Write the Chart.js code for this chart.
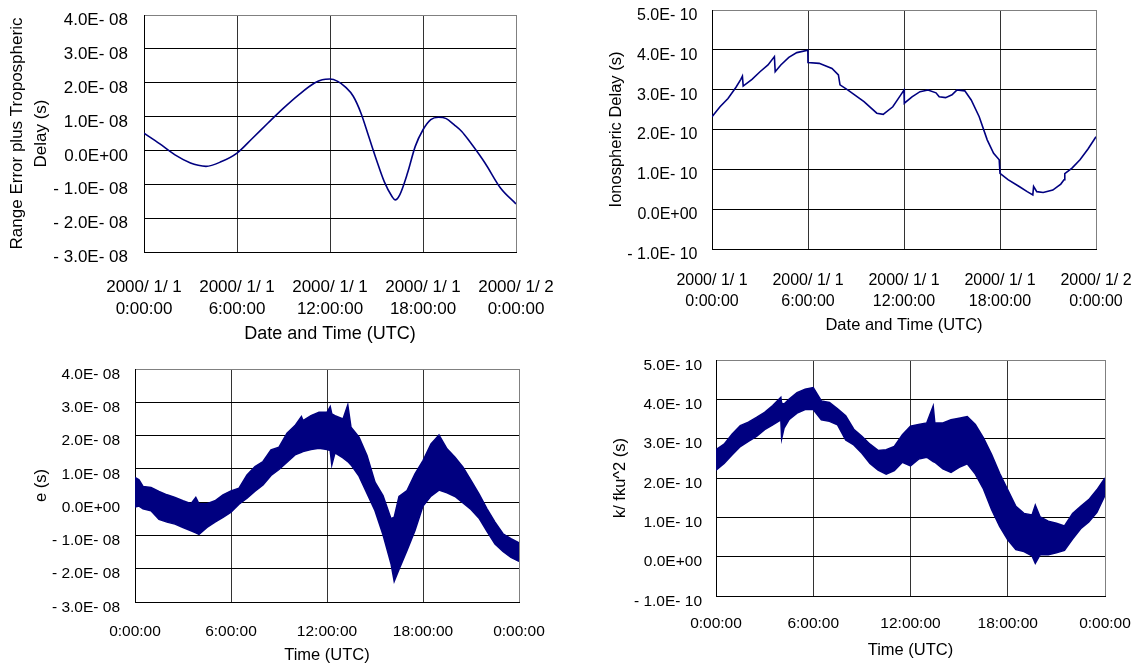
<!DOCTYPE html>
<html>
<head>
<meta charset="utf-8">
<script src="https://cdn.jsdelivr.net/npm/chart.js@4/dist/chart.umd.min.js"></script>
<style>
  html,body{margin:0;padding:0;background:#fff;}
  #wrap{position:relative;width:1137px;height:666px;overflow:hidden;}
  canvas{position:absolute;}
</style>
</head>
<body>
<div id="wrap">
  <canvas id="c1" width="568" height="345" style="left:0;top:0"></canvas>
  <canvas id="c2" width="569" height="345" style="left:568px;top:0"></canvas>
  <canvas id="c3" width="568" height="321" style="left:0;top:345px"></canvas>
  <canvas id="c4" width="569" height="321" style="left:568px;top:345px"></canvas>
</div>
<script>
// range error plus tropospheric delay, units of 1E-08 s
const hoursRange = [0,1,2,3,3.5,4,5,6,7,8,9,10,11,11.5,12,12.5,13,13.5,14,14.5,15,15.5,16,16.2,16.5,17,17.5,18,18.5,19,19.5,20,20.5,21,22,23,24];
const rangeError = [0.51,0.2,-0.13,-0.37,-0.44,-0.47,-0.33,-0.08,0.36,0.81,1.25,1.65,1.99,2.09,2.11,2.04,1.87,1.6,1.1,0.41,-0.28,-0.92,-1.36,-1.46,-1.31,-0.67,0.12,0.61,0.91,0.98,0.94,0.76,0.56,0.27,-0.37,-1.11,-1.58];

// ionospheric delay, units of 1E-10 s
const hoursIono = [0,0.5,1,1.5,1.8,1.9,1.95,2.5,3,3.5,3.9,3.95,4.3,4.8,5.3,5.99,6,6.7,7.5,7.9,8,8.5,9.5,10.3,10.7,11.3,11.8,12,12.02,12.5,13,13.5,14,14.2,14.6,15,15.3,15.8,16.2,16.7,17.2,17.6,17.95,18,18.5,19.2,19.7,20.05,20.1,20.3,20.7,21.3,21.8,22,22.05,22.5,23,23.5,24];
const ionoDelay = [2.32,2.57,2.78,3.06,3.26,3.34,3.09,3.26,3.45,3.62,3.83,3.45,3.62,3.81,3.93,3.99,3.68,3.66,3.53,3.37,3.12,2.99,2.70,2.41,2.38,2.57,2.87,2.99,2.66,2.82,2.95,2.99,2.92,2.82,2.80,2.87,2.99,2.97,2.74,2.32,1.74,1.40,1.24,0.90,0.74,0.57,0.44,0.36,0.57,0.44,0.42,0.48,0.63,0.74,0.89,1.03,1.24,1.51,1.82];

// e (noisy), upper / lower edge of the band, units of 1E-08 s
const hoursE = [0,0.25,0.5,1,1.5,2,2.5,3,3.5,3.8,4,4.5,5,5.5,6,6.5,7,7.5,8,8.5,9,9.5,10,10.4,10.5,11,11.5,12,12.2,12.3,12.5,13,13.3,13.5,14,14.5,15,15.5,16,16.2,16.5,17,17.5,18,18.5,19,19.5,20,20.5,21,21.5,22,22.5,23,23.5,24];
const eUpper = [0.74,0.67,0.47,0.44,0.32,0.22,0.14,0.04,-0.05,0.14,-0.05,-0.05,0.04,0.22,0.34,0.42,0.82,1.07,1.22,1.57,1.65,2.07,2.3,2.57,2.45,2.6,2.7,2.7,2.87,2.65,2.6,2.5,2.92,2.25,1.95,1.4,0.6,0.2,-0.5,-0.45,0.17,0.35,0.85,1.25,1.75,2.02,1.6,1.35,1.05,0.65,0.25,-0.2,-0.6,-0.95,-1.1,-1.22];
const eLower = [-0.15,-0.12,-0.2,-0.26,-0.52,-0.6,-0.66,-0.76,-0.86,-0.92,-0.97,-0.76,-0.6,-0.46,-0.3,-0.06,0.12,0.33,0.52,0.8,0.98,1.2,1.42,1.5,1.52,1.58,1.62,1.58,1.55,1.12,1.48,1.33,1.22,1.12,0.78,0.26,-0.26,-0.98,-1.85,-2.38,-2.02,-1.45,-0.85,-0.12,0.18,0.36,0.28,0.17,-0.02,-0.22,-0.48,-0.88,-1.26,-1.48,-1.66,-1.78];

// k/fku^2 (noisy), upper / lower edge of the band, units of 1E-10 s
const hoursK = [0,0.5,1,1.5,2,2.5,3,3.5,4,4.05,4.2,4.5,5,5.5,6,6.5,7,7.5,8,8.5,9,9.5,10,10.5,11,11.5,12,12.5,13,13.4,13.5,14,14.5,15,15.5,16,16.5,17,17.5,18,18.5,19,19.5,19.7,20,20.5,21,21.5,22,22.5,23,23.5,24];
const kUpper = [2.72,2.86,3.12,3.33,3.42,3.54,3.67,3.84,4.05,3.9,3.88,4.0,4.17,4.26,4.3,3.96,3.92,3.76,3.58,3.24,3.06,2.86,2.7,2.72,2.8,3.1,3.32,3.36,3.4,3.83,3.4,3.4,3.48,3.52,3.56,3.36,3.02,2.6,2.12,1.7,1.28,1.1,1.06,1.31,1.01,0.9,0.85,0.78,1.1,1.28,1.45,1.7,2.0];
const kLower = [2.2,2.37,2.59,2.8,2.93,3.06,3.23,3.35,3.48,3.0,3.27,3.48,3.65,3.74,3.74,3.48,3.44,3.35,2.97,2.84,2.63,2.37,2.2,2.1,2.19,2.4,2.31,2.48,2.53,2.42,2.4,2.23,2.14,2.27,2.36,2.1,1.72,1.2,0.77,0.43,0.18,0.13,0.02,-0.17,0.05,0.05,0.1,0.16,0.45,0.71,0.88,1.13,1.56];

const dateTicks = [['2000/ 1/ 1','0:00:00'],['2000/ 1/ 1','6:00:00'],['2000/ 1/ 1','12:00:00'],['2000/ 1/ 1','18:00:00'],['2000/ 1/ 2','0:00:00']];
const timeTicks = ['0:00:00','6:00:00','12:00:00','18:00:00','0:00:00'];
const ticksE8 = ['- 3.0E- 08','- 2.0E- 08','- 1.0E- 08','0.0E+00','1.0E- 08','2.0E- 08','3.0E- 08','4.0E- 08'];
const ticksE10 = ['- 1.0E- 10','0.0E+00','1.0E- 10','2.0E- 10','3.0E- 10','4.0E- 10','5.0E- 10'];

const NAVY = '#000080';
const FONT = "'Liberation Sans', Arial, sans-serif";
const CLEAR = 'rgba(0,0,0,0)';

function pts(xs, ys){ return xs.map((x,i)=>({x, y:ys[i]})); }

// label gaps go through an invisible tick mark so the chart area is not pushed in
function makeChart(id, cfg){
  const cv = document.getElementById(id);
  const W = cv.width, H = cv.height, a = cfg.area;
  return new Chart(cv, {
    type:'line',
    data:{datasets:cfg.datasets},
    options:{
      responsive:false, animation:false, events:[],
      layout:{padding:{left:0, top:a.t, right:W-a.r, bottom:0}},
      plugins:{legend:{display:false}, tooltip:{enabled:false}},
      elements:{point:{radius:0}},
      scales:{
        x:{
          type:'linear', min:0, max:24,
          afterFit:s=>{ s.height = H - a.b; },
          ticks:{stepSize:6, autoSkip:false, maxRotation:0, padding:0, color:'#000',
                 font:{family:FONT, size:cfg.tickSize, lineHeight:cfg.xLine},
                 callback:(v,i)=>cfg.xTicks[i]},
          grid:{drawTicks:true, tickLength:cfg.xPad, tickColor:CLEAR,
                color:c=>(c.tick && c.tick.value===24)?'#808080':'#333'},
          border:{color:'#000'},
          title:{display:true, text:cfg.xTitle, color:'#000',
                 font:{family:FONT, size:cfg.xTitleSize, lineHeight:1.2},
                 padding:{top:0, bottom:cfg.xTitlePad}}
        },
        y:{
          min:cfg.yMin, max:cfg.yMax,
          afterFit:s=>{ s.width = a.l; },
          ticks:{stepSize:1, padding:0, labelOffset:5.5, color:'#000',
                 font:{family:FONT, size:cfg.tickSize},
                 callback:(v,i)=>cfg.yTicks[i]},
          grid:{drawTicks:true, tickLength:cfg.yPad, tickColor:CLEAR,
                color:c=>(c.tick && c.tick.value===cfg.yMax)?'#808080':'#000'},
          border:{color:'#000'},
          title:{display:true, text:cfg.yTitle, color:'#000',
                 font:{family:FONT, size:cfg.yTitleSize, lineHeight:cfg.yTitleLine||1.2},
                 padding:{top:cfg.yTitlePad, bottom:0}}
        }
      }
    }
  });
}

makeChart('c1', {
  area:{l:144, t:15, r:516, b:252},
  datasets:[{data:pts(hoursRange, rangeError), borderColor:NAVY, borderWidth:1.6, fill:false, cubicInterpolationMode:'monotone'}],
  yMin:-3, yMax:4, yTicks:ticksE8, xTicks:dateTicks,
  tickSize:17, xLine:1.294, xPad:24.5, yPad:16,
  xTitle:'Date and Time (UTC)', xTitleSize:18, xTitlePad:0,
  yTitle:['Range Error plus Tropospheric','Delay (s)'], yTitleSize:17, yTitleLine:1.43, yTitlePad:5
});

makeChart('c2', {
  area:{l:144, t:10, r:528, b:249},
  datasets:[{data:pts(hoursIono, ionoDelay), borderColor:NAVY, borderWidth:1.6, fill:false, tension:0}],
  yMin:-1, yMax:5, yTicks:ticksE10, xTicks:dateTicks,
  tickSize:16, xLine:1.31, xPad:21.5, yPad:14.5,
  xTitle:'Date and Time (UTC)', xTitleSize:16.5, xTitlePad:10,
  yTitle:'Ionospheric Delay (s)', yTitleSize:16.5, yTitlePad:39
});

makeChart('c3', {
  area:{l:135, t:24, r:519, b:257},
  datasets:[
    {data:pts(hoursE, eUpper), borderColor:NAVY, backgroundColor:NAVY, borderWidth:1.5, fill:'+1', tension:0},
    {data:pts(hoursE, eLower), borderColor:NAVY, borderWidth:1.5, fill:false, tension:0}
  ],
  yMin:-3, yMax:4, yTicks:ticksE8, xTicks:timeTicks,
  tickSize:15.5, xLine:1.2, xPad:20.7, yPad:15,
  xTitle:'Time (UTC)', xTitleSize:16.5, xTitlePad:1,
  yTitle:'e (s)', yTitleSize:16.5, yTitlePad:32
});

makeChart('c4', {
  area:{l:148, t:15, r:537, b:251},
  datasets:[
    {data:pts(hoursK, kUpper), borderColor:NAVY, backgroundColor:NAVY, borderWidth:1.5, fill:'+1', tension:0},
    {data:pts(hoursK, kLower), borderColor:NAVY, borderWidth:1.5, fill:false, tension:0}
  ],
  yMin:-1, yMax:5, yTicks:ticksE10, xTicks:timeTicks,
  tickSize:15.5, xLine:1.2, xPad:18.7, yPad:14,
  xTitle:'Time (UTC)', xTitleSize:16.5, xTitlePad:6,
  yTitle:'k/ fku^2 (s)', yTitleSize:16.5, yTitlePad:43
});
</script>
</body>
</html>
